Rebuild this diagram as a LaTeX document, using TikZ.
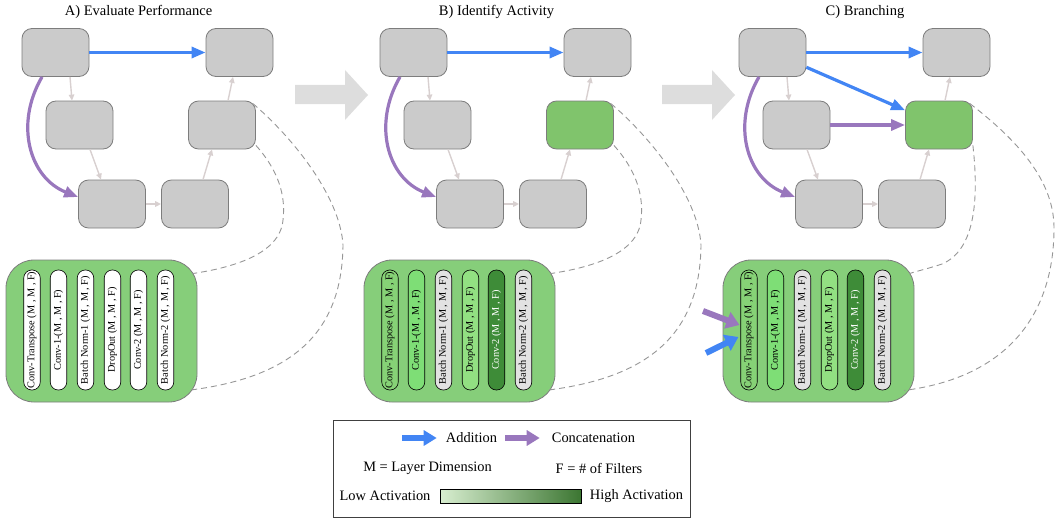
\documentclass[tikz,border=0pt]{standalone}
\usepackage{fontspec}
\setmainfont{Liberation Serif}
\usetikzlibrary{arrows.meta,calc}
\definecolor{nodegray}{RGB}{203,203,203}
\definecolor{nodeborder}{RGB}{125,125,125}
\definecolor{actgreen}{RGB}{128,196,108}
\definecolor{boxgreen}{RGB}{134,206,122}
\definecolor{addblue}{RGB}{66,133,244}
\definecolor{catpurple}{RGB}{153,119,189}
\definecolor{edgegray}{RGB}{216,208,208}
\definecolor{dashgray}{RGB}{150,150,150}
\definecolor{bigarrow}{RGB}{221,221,221}
\definecolor{pmid}{RGB}{134,210,118}
\definecolor{pbright}{RGB}{126,222,118}
\definecolor{plight}{RGB}{146,224,130}
\definecolor{pgrayl}{RGB}{226,226,226}
\definecolor{pdark}{RGB}{62,140,56}
\definecolor{gradlo}{RGB}{216,238,208}
\definecolor{gradhi}{RGB}{60,118,50}
\tikzset{
 gnode/.style={draw=nodeborder, fill=nodegray, rounded corners=10pt, minimum width=67pt, minimum height=48pt, inner sep=0pt, line width=0.8pt},
 greennode/.style={fill=actgreen},
 layerbox/.style={draw=nodeborder, fill=boxgreen, rounded corners=28pt, minimum width=191pt, minimum height=142pt, line width=0.8pt},
 pill/.style={draw=black, rounded corners=8pt, rotate=90, minimum width=120pt, minimum height=16.5pt, inner sep=0.5pt, line width=0.6pt, font=\fontsize{10.3}{12}\selectfont},
 pwhite/.style={fill=white},
 flow/.style={draw=edgegray, line width=1.4pt, -{Triangle[length=6pt,width=5.5pt]}},
 addarrow/.style={draw=addblue, line width=3.2pt, -{Triangle[length=14pt,width=11pt]}},
 catarrow/.style={draw=catpurple, line width=3.2pt, -{Triangle[length=14pt,width=11pt]}},
 bigadd/.style={draw=addblue, line width=6pt, -{Triangle[length=13pt,width=17pt]}},
 bigcat/.style={draw=catpurple, line width=6pt, -{Triangle[length=13pt,width=17pt]}},
 legadd/.style={draw=addblue, line width=5.5pt, -{Triangle[length=13pt,width=15pt]}},
 legcat/.style={draw=catpurple, line width=5.5pt, -{Triangle[length=13pt,width=15pt]}},
 link/.style={draw=dashgray, dash pattern=on 6pt off 4pt, line width=0.9pt},
 titletext/.style={font=\fontsize{14.5}{17}\selectfont},
 legtext/.style={font=\fontsize{14.4}{17}\selectfont, inner sep=0pt},
}
\newcommand\drawpanel[9]{%
\begin{scope}[xshift=#2]
\node[gnode] (#1n1) at (55.5,52.5) {};
\node[gnode] (#1n2) at (239.5,52.5) {};
\node[gnode] (#1n3) at (79.5,125) {};
\node[gnode,#3] (#1n4) at (222,125) {};
\node[gnode] (#1n5) at (112,204) {};
\node[gnode] (#1n6) at (195,204) {};
\draw[flow] ([xshift=14.5pt]#1n1.south) -- ([xshift=-7.5pt]#1n3.north);
\draw[flow] ([xshift=10.5pt]#1n3.south) -- ([xshift=-11pt]#1n5.north);
\draw[flow] (#1n5) -- (#1n6);
\draw[flow] ([xshift=8pt]#1n6.north) -- ([xshift=-10pt]#1n4.south);
\draw[flow] ([xshift=6pt]#1n4.north) -- ([xshift=-6.5pt]#1n2.south);
\draw[addarrow] (#1n1) -- (#1n2);
\draw[catarrow] ([xshift=-13.5pt]#1n1.south) .. controls (14,125) and (30,178) .. ([yshift=7pt]#1n5.west);
\node[layerbox] (#1box) at (101.5,331) {};
\node[pill,#4] (#1p1) at (32,330) {Conv-Transpose (M , M , F)};
\node[pill,#5] (#1p2) at (58.5,330) {Conv-1-(M , M , F)};
\node[pill,#6] (#1p3) at (85.5,330) {Batch Norm-1 (M , M , F)};
\node[pill,#7] (#1p4) at (112.5,330) {DropOut (M , M , F)};
\node[pill,#8] (#1p5) at (138.5,330) {Conv-2 (M , M , F)};
\node[pill,#9] (#1p6) at (165.5,330) {Batch Norm-2 (M , M , F)};
\end{scope}}
\begin{document}
\begin{tikzpicture}[x=1pt,y=-1pt]
\useasboundingbox (0,0) rectangle (1055,519);
\node[titletext] (tA) at (138.5,12) {A) Evaluate Performance};
\node[titletext] (tB) at (496.5,12) {B) Identify Activity};
\node[titletext] (tC) at (865,12) {C) Branching};
% big transition arrows
\fill[bigarrow] (295,85) -- (345,85) -- (345,70) -- (368,95) -- (345,120) -- (345,104) -- (295,104) -- cycle;
\fill[bigarrow] (662,85) -- (712,85) -- (712,70) -- (735,95) -- (712,120) -- (712,104) -- (662,104) -- cycle;
% panels
\drawpanel{A}{0pt}{}{pwhite}{pwhite}{pwhite}{pwhite}{pwhite}{pwhite}
\drawpanel{B}{358pt}{greennode}{fill=pmid}{fill=pbright}{fill=pgrayl}{fill=plight}{fill=pdark,text=white}{fill=pgrayl}
\drawpanel{C}{717pt}{greennode}{fill=pmid}{fill=pbright}{fill=pgrayl}{fill=plight}{fill=pdark,text=white}{fill=pgrayl}
% dashed links A
\draw[link] ([xshift=-3pt,yshift=-3pt]An4.north east) .. controls (290,135) and (340,195) .. (343,245) .. controls (342,335) and (290,378) .. ([xshift=-10pt,yshift=12pt]Abox.south east);
\draw[link] ([yshift=4pt]An4.south east) .. controls (278,170) and (286,195) .. (283,220) .. controls (280,255) and (230,268) .. ([xshift=-5pt,yshift=-14pt]Abox.north east);
% dashed links B
\begin{scope}[xshift=358pt]
\draw[link] ([xshift=-3pt,yshift=-3pt]Bn4.north east) .. controls (290,135) and (340,195) .. (343,245) .. controls (342,335) and (290,378) .. ([xshift=-10pt,yshift=12pt]Bbox.south east);
\draw[link] ([yshift=4pt]Bn4.south east) .. controls (278,170) and (286,195) .. (283,220) .. controls (280,255) and (230,268) .. ([xshift=-5pt,yshift=-14pt]Bbox.north east);
\end{scope}
% dashed links C
\begin{scope}[xshift=717pt]
\draw[link] ([xshift=-3pt,yshift=-3pt]Cn4.north east) .. controls (300,140) and (337,180) .. (337,228) .. controls (337,320) and (285,378) .. ([xshift=-10pt,yshift=12pt]Cbox.south east);
\draw[link] ([yshift=4pt]Cn4.south east) .. controls (262,200) and (258,250) .. (225,264) .. controls (210,269) and (200,271) .. ([xshift=-5pt,yshift=-14pt]Cbox.north east);
\end{scope}
% branching extras
\draw[addarrow] (Cn1) -- (Cn4);
\draw[catarrow] (Cn3) -- (Cn4);
\coordinate (cpt) at (703,311);
\coordinate (cbt) at (706,353);
\draw[bigcat] (cpt) -- ([xshift=-1pt,yshift=5pt]Cp1.north);
\draw[bigadd] (cbt) -- ([xshift=-2pt,yshift=-7pt]Cp1.north);
% legend
\node[draw=black!75, line width=0.8pt, minimum width=357pt, minimum height=97pt] (legend) at (511.5,468.5) {};
\node[legtext] (addt) at (471.5,438) {Addition};
\node[legtext] (catt) at (593.5,438) {Concatenation};
\coordinate (adds) at (402,438);
\coordinate (cats) at (505,438);
\draw[legadd] (adds) -- ([xshift=-9pt]addt.west);
\draw[legcat] (cats) -- ([xshift=-12pt]catt.west);
\node[legtext] (mdef) at (427.5,468) {M = Layer Dimension};
\node[legtext] (fdef) at (599,468) {F = \# of Filters};
\node[legtext] (low) at (385,496) {Low Activation};
\node[draw=black, line width=0.8pt, left color=gradlo, right color=gradhi, minimum width=141pt, minimum height=14pt, inner sep=0pt] (bar) at (510.5,496) {};
\node[legtext] (high) at (636.5,496) {High Activation};
\end{tikzpicture}
\end{document}
